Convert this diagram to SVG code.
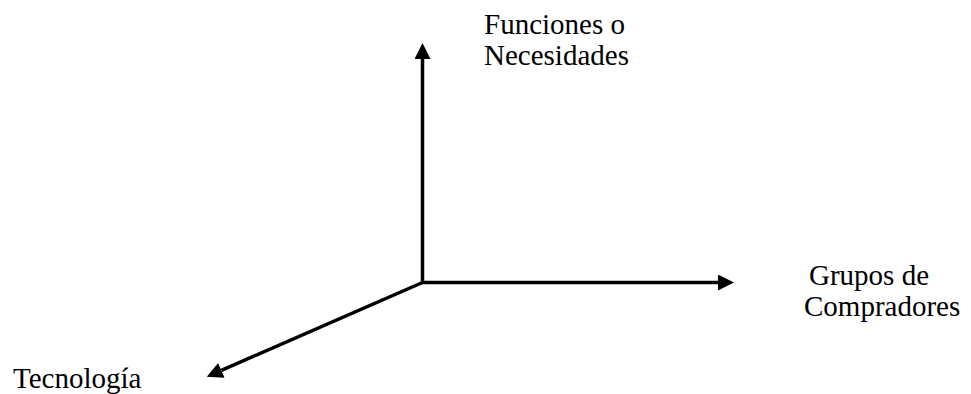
<svg xmlns="http://www.w3.org/2000/svg" width="971" height="394" viewBox="0 0 971 394">
<style>
.ax{stroke:#000;stroke-width:3.5;fill:none;stroke-linecap:butt}
</style>
<defs>
<marker id="ah" markerUnits="userSpaceOnUse" markerWidth="16" markerHeight="16" refX="0" refY="8" orient="auto" viewBox="0 0 16 16">
<path d="M0,0 L16,8 L0,16 z" fill="#000"/>
</marker>
</defs>
<rect width="971" height="394" fill="#fff"/>
<g id="connectors">
<line class="ax" x1="422.5" y1="284" x2="422.5" y2="59" marker-end="url(#ah)"/>
<line class="ax" x1="421" y1="282.5" x2="718" y2="282.5" marker-end="url(#ah)"/>
<line class="ax" x1="422.5" y1="282.5" x2="221.4" y2="370.3" marker-end="url(#ah)"/>
</g>
<g font-family="Liberation Serif, Times New Roman, serif" font-size="29" fill="#000">
<g id="funciones">
<text x="484" y="34">Funciones o</text>
<text x="484" y="65">Necesidades</text>
</g>
<g id="grupos">
<text x="809" y="285">Grupos de</text>
<text x="804" y="316">Compradores</text>
</g>
<g id="tecnologia">
<text x="13" y="388">Tecnología</text>
</g>
</g>
</svg>
